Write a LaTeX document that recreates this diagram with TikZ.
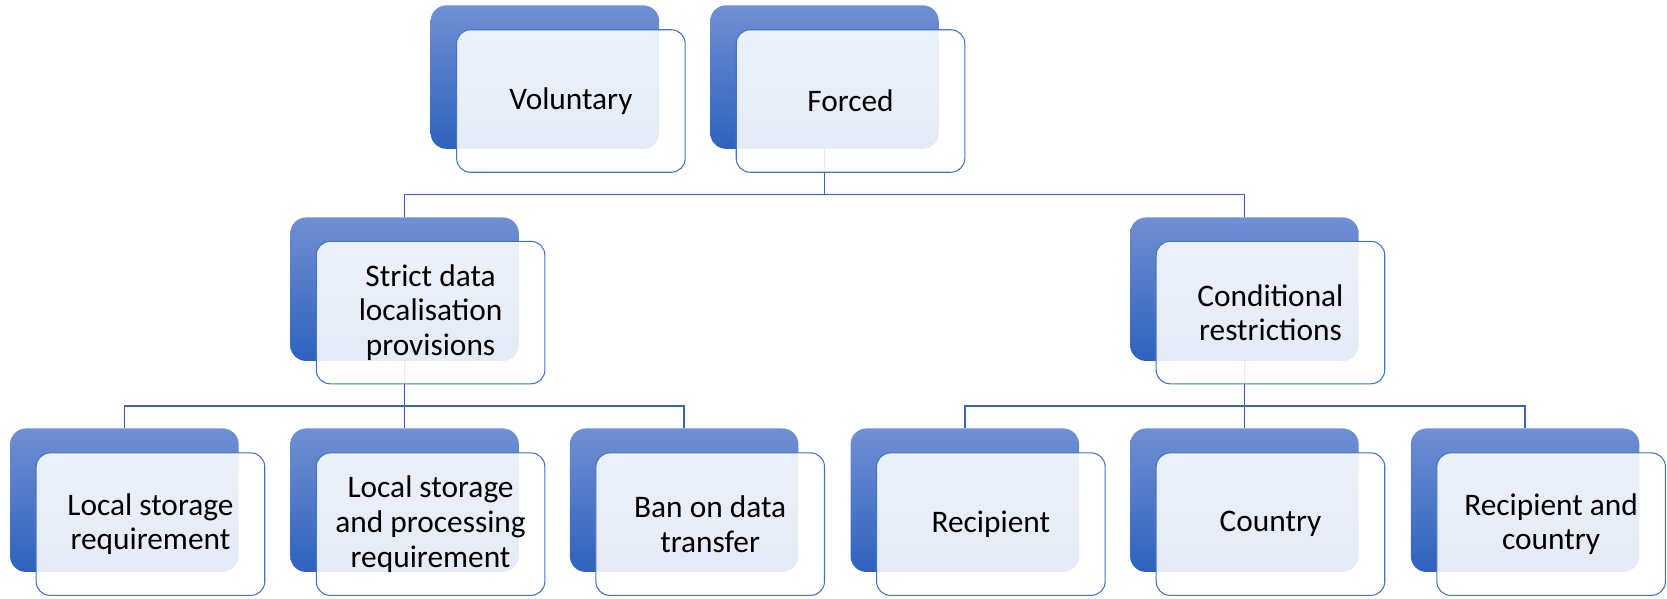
\documentclass[tikz,border=0pt]{standalone}
\usepackage{fontspec}
\setmainfont{Carlito}
\definecolor{boxtop}{RGB}{112,143,211}
\definecolor{boxbot}{RGB}{46,98,190}
\definecolor{edgeblue}{RGB}{68,114,196}
\definecolor{linkblue}{RGB}{62,98,172}
\tikzset{
  backbox/.style={rectangle, rounded corners=7.5pt, minimum width=107.5pt, minimum height=67.5pt, inner sep=0pt, top color=boxtop, bottom color=boxbot, draw=none},
  frontbox/.style={rectangle, rounded corners=6.5pt, minimum width=107.5pt, minimum height=67pt, inner sep=0pt, draw=edgeblue, line width=0.5pt, fill=white, fill opacity=0.88, text opacity=1, align=center, font=\fontsize{14.75pt}{16.25pt}\selectfont},
  link/.style={draw=linkblue, line width=0.65pt}
}

\begin{document}
\begin{tikzpicture}[x=0.5pt, y=-0.5pt]
\useasboundingbox (0,0) rectangle (1568,563);
% back boxes
\node[backbox] (volb) at (512.5, 72.5) {};
\node[backbox] (forcedb) at (775.5, 72.5) {};
\node[backbox] (strictb) at (380.5, 272) {};
\node[backbox] (condb) at (1170.5, 272) {};
\node[backbox] (lsb) at (117, 470.5) {};
\node[backbox] (lspb) at (380.5, 470.5) {};
\node[backbox] (banb) at (643.5, 470.5) {};
\node[backbox] (recb) at (907.5, 470.5) {};
\node[backbox] (ctyb) at (1170.5, 470.5) {};
\node[backbox] (rcb) at (1434.5, 470.5) {};

% connectors
\coordinate (busa) at (775.5, 183);
\coordinate (busb) at (380.5, 382);
\coordinate (busc) at (1170.5, 382);
\draw[link] (forcedb.south) -- (busa) -| (strictb.north);
\draw[link] (busa) -| (condb.north);
\draw[link] (strictb.south) -- (busb) -| (lsb.north);
\draw[link] (busb) -- (lspb.north);
\draw[link] (busb) -| (banb.north);
\draw[link] (condb.south) -- (busc) -| (recb.north);
\draw[link] (busc) -- (ctyb.north);
\draw[link] (busc) -| (rcb.north);

% front boxes with text
\node[frontbox] (vol) at (537, 95) {Voluntary};
\node[frontbox] (forced) at (800, 95) {Forced};
\node[frontbox] (strict) at (405, 294) {Strict data\\localisation\\provisions};
\node[frontbox] (cond) at (1195, 294) {Conditional\\restrictions};
\node[frontbox] (ls) at (141.5, 493) {Local storage\\requirement};
\node[frontbox] (lsp) at (405, 493) {Local storage\\and processing\\requirement};
\node[frontbox] (ban) at (668, 493) {Ban on data\\transfer};
\node[frontbox] (rec) at (932, 493) {Recipient};
\node[frontbox] (cty) at (1195, 493) {Country};
\node[frontbox] (rc) at (1459, 493) {Recipient and\\country};
\end{tikzpicture}
\end{document}
